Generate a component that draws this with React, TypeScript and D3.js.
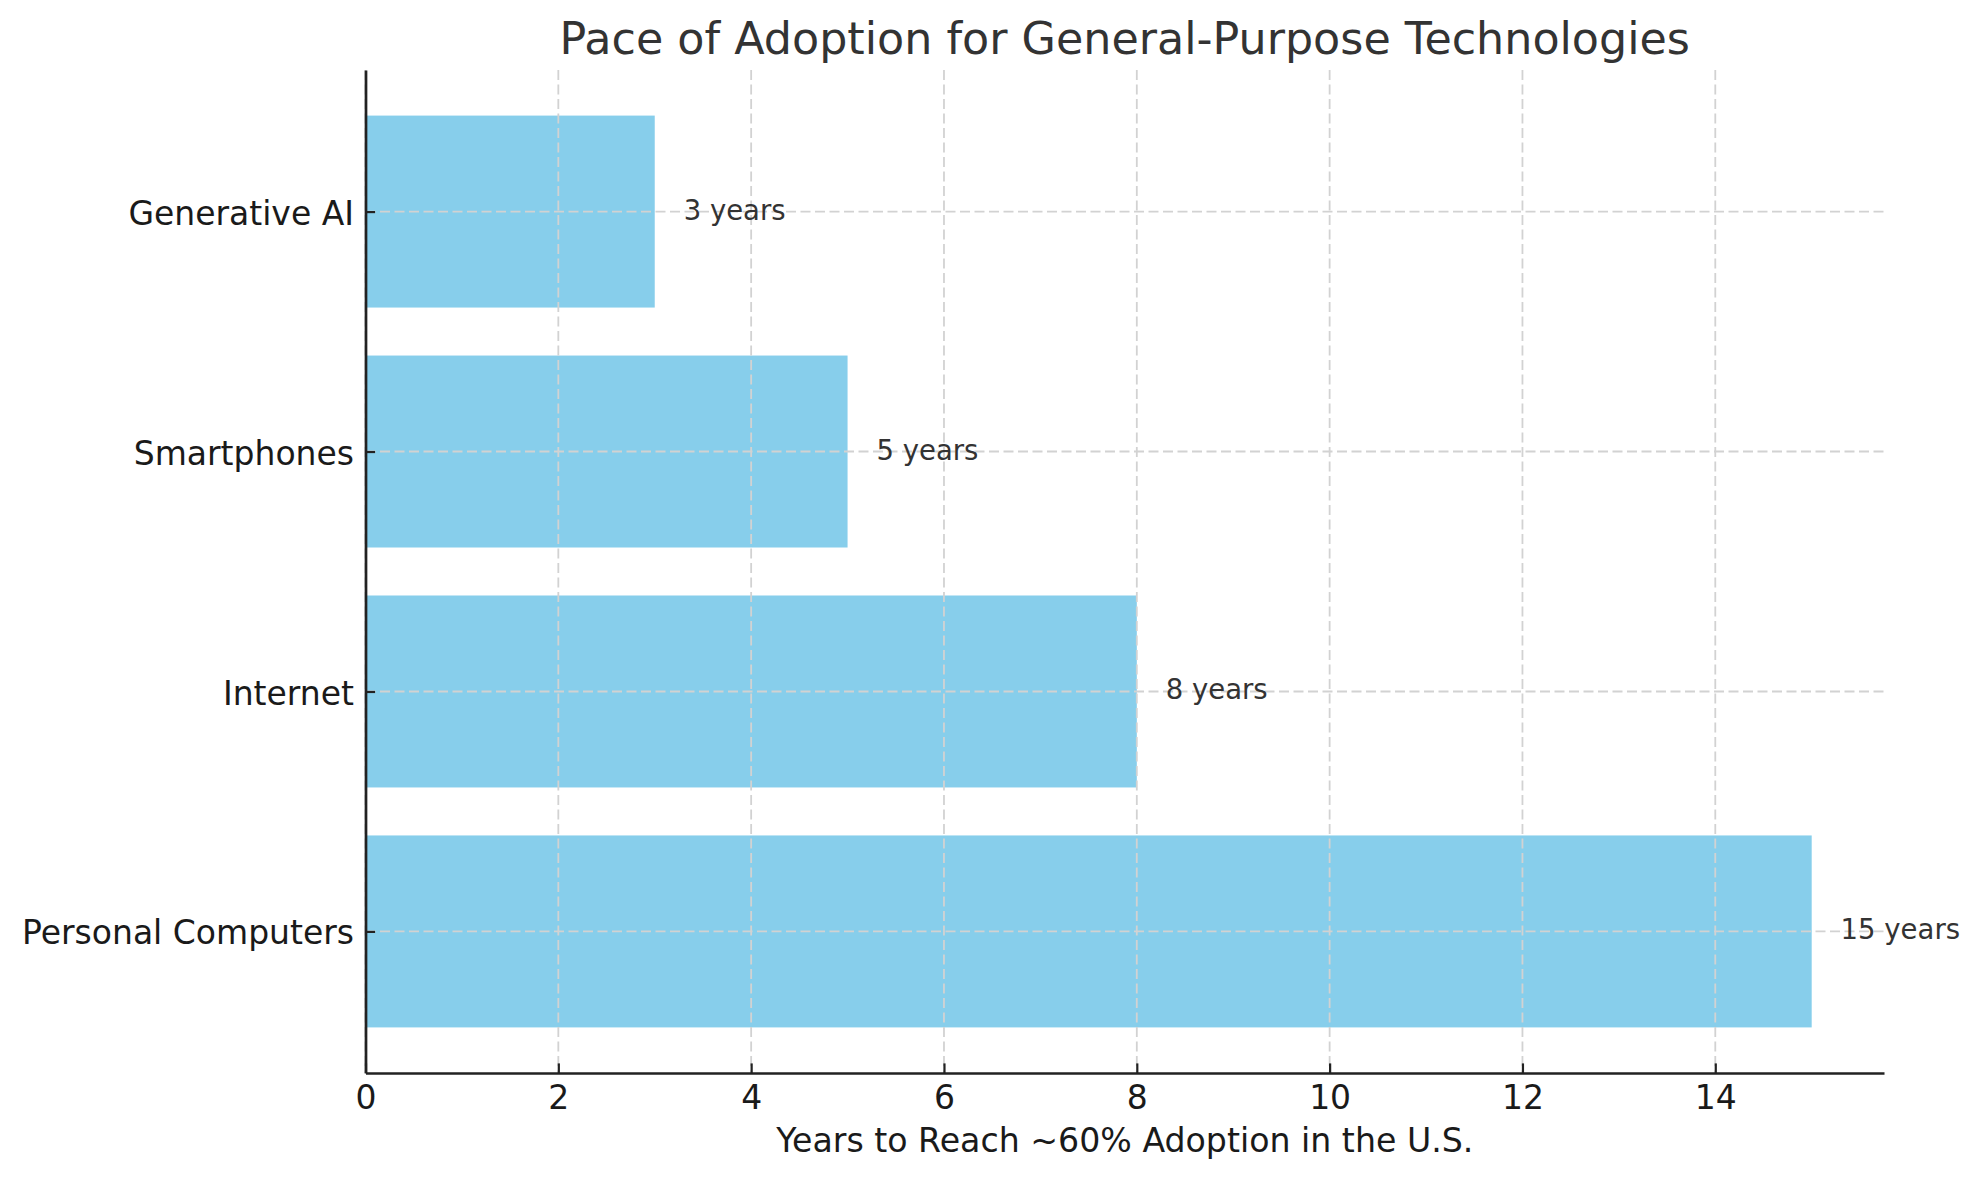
import { useEffect, useRef } from "react";
import * as d3 from "d3";

const technologies = ["Personal Computers", "Internet", "Smartphones", "Generative AI"];
const yearsToAdoption = [15, 8, 5, 3];
const xTicks = [0, 2, 4, 6, 8, 10, 12, 14];

const title = "Pace of Adoption for General-Purpose Technologies";
const xLabel = "Years to Reach ~60% Adoption in the U.S.";

export default function App() {
  const svgRef = useRef<SVGSVGElement | null>(null);

  useEffect(() => {
    if (!svgRef.current) return;

    const width = 1980;
    const height = 1180;
    const margin = { top: 70, right: 96, bottom: 107, left: 365.5 };
    const font = "'DejaVu Sans', sans-serif";

    const svg = d3.select(svgRef.current);
    svg.selectAll("*").remove();

    const x = d3
      .scaleLinear()
      .domain([0, 15.75])
      .range([margin.left, width - margin.right]);

    // index scale, same padding matplotlib gives a barh of height 0.8
    const y = d3
      .scaleLinear()
      .domain([-0.59, technologies.length - 1 + 0.59])
      .range([height - margin.bottom, margin.top]);

    const barHalf = (y(-0.4) - y(0.4)) / 2;

    const rows = technologies.map((name, i) => ({ name, value: yearsToAdoption[i], i }));

    // bars
    svg
      .append("g")
      .selectAll("rect")
      .data(rows)
      .join("rect")
      .attr("x", x(0))
      .attr("y", (d) => y(d.i) - barHalf)
      .attr("width", (d) => x(d.value) - x(0))
      .attr("height", barHalf * 2)
      .attr("fill", "#87CEEB");

    // grid on top of bars
    const grid = svg
      .append("g")
      .attr("stroke", "#d2d2d2")
      .attr("stroke-width", 1.8)
      .attr("stroke-dasharray", "10,4.5");

    grid
      .selectAll("line.vx")
      .data(xTicks)
      .join("line")
      .attr("class", "vx")
      .attr("x1", (d) => x(d))
      .attr("x2", (d) => x(d))
      .attr("y1", margin.top)
      .attr("y2", height - margin.bottom);

    grid
      .selectAll("line.hy")
      .data(rows)
      .join("line")
      .attr("class", "hy")
      .attr("x1", x(0))
      .attr("x2", width - margin.right)
      .attr("y1", (d) => y(d.i))
      .attr("y2", (d) => y(d.i));

    // axes
    const xAxis = svg
      .append("g")
      .attr("transform", `translate(0,${height - margin.bottom})`)
      .call(
        d3
          .axisBottom(x)
          .tickValues(xTicks)
          .tickFormat(d3.format("d") as any)
          .tickSizeInner(-9.6)
          .tickSizeOuter(0)
          .tickPadding(12.5)
      );

    const yAxis = svg
      .append("g")
      .attr("transform", `translate(${margin.left},0)`)
      .call(
        d3
          .axisLeft(y)
          .tickValues(rows.map((d) => d.i))
          .tickFormat((d) => technologies[d as number])
          .tickSizeInner(-9.6)
          .tickSizeOuter(0)
          .tickPadding(11.5)
      );

    [xAxis, yAxis].forEach((g) => {
      g.select(".domain").attr("stroke", "#222").attr("stroke-width", 2.7);
      g.selectAll(".tick line").attr("stroke", "#222").attr("stroke-width", 2.2);
      g.selectAll(".tick text")
        .attr("fill", "#1a1a1a")
        .attr("font-family", font)
        .attr("font-size", 33);
    });
    yAxis.selectAll(".tick text").attr("dy", "0.38em");

    // value labels
    svg
      .append("g")
      .selectAll("text")
      .data(rows)
      .join("text")
      .attr("x", (d) => x(d.value + 0.3))
      .attr("y", (d) => y(d.i) + 8)
      .attr("font-family", font)
      .attr("font-size", 27.5)
      .attr("fill", "#333")
      .text((d) => `${d.value} years`);

    const cx = (margin.left + width - margin.right) / 2;

    svg
      .append("text")
      .attr("x", cx)
      .attr("y", 54)
      .attr("text-anchor", "middle")
      .attr("font-family", font)
      .attr("font-size", 44.4)
      .attr("fill", "#333")
      .text(title);

    svg
      .append("text")
      .attr("x", cx)
      .attr("y", 1152)
      .attr("text-anchor", "middle")
      .attr("font-family", font)
      .attr("font-size", 33.2)
      .attr("fill", "#1a1a1a")
      .text(xLabel);
  }, []);

  return (
    <svg
      ref={svgRef}
      width={1980}
      height={1180}
      viewBox="0 0 1980 1180"
      style={{ position: "absolute", left: 0, top: 0, background: "#fff" }}
    ></svg>
  );
}
